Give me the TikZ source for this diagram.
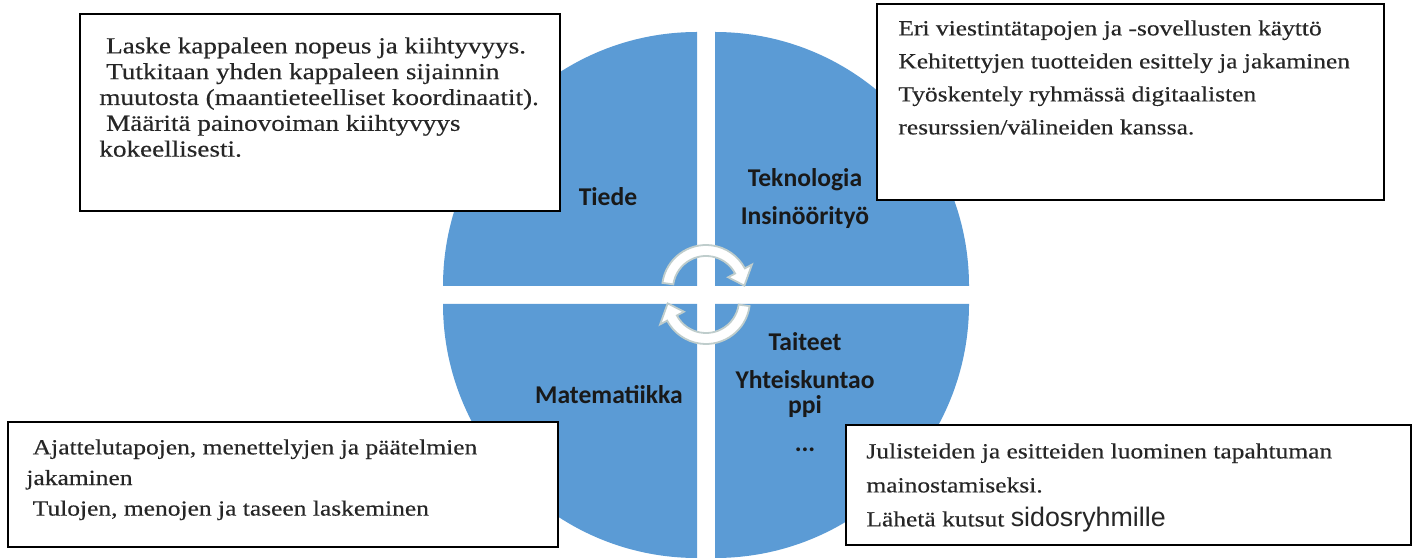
\documentclass[tikz,border=0pt]{standalone}
\usepackage{fontspec}
\setmainfont{Liberation Serif}
\newfontfamily\boxfont{Liberation Serif}[FakeStretch=1.18,FakeBold=0.35]
\newfontfamily\quadfont{Carlito}
\newfontfamily\arialfont{Liberation Sans}
\definecolor{quadblue}{HTML}{5B9BD5}
\definecolor{arrowedge}{HTML}{BFCDCC}
\definecolor{boxtext}{HTML}{262626}

\begin{document}
\begin{tikzpicture}[x=0.5pt,y=0.5pt,
  quad/.style={fill=quadblue},
  cyc/.style={fill=white,draw=arrowedge,line width=0.9pt},
  lbl/.style={font=\quadfont\bfseries\fontsize{12.8pt}{15pt}\selectfont,text=black!90,anchor=base,inner sep=0pt},
  box/.style={draw=black,fill=white,line width=1pt,inner sep=0pt},
  txt/.style={align=left,anchor=north west,inner sep=0pt,text=boxtext}]
\useasboundingbox (0,0) rectangle (1418,557);

% the four quarters
\fill[quad] (697,271) -- (443,271) arc[start angle=180,end angle=90,radius=254] -- cycle;
\fill[quad] (715,271) -- (715,525) arc[start angle=90,end angle=0,radius=254] -- cycle;
\fill[quad] (697,253) -- (697,-1) arc[start angle=270,end angle=180,radius=254] -- cycle;
\fill[quad] (715,253) -- (969,253) arc[start angle=0,end angle=-90,radius=254] -- cycle;

% cycle arrows
\filldraw[cyc,shift={(706,268)}] (172:44) arc[start angle=172,end angle=28,radius=44]
  -- (28:52) -- (5:38.5) -- (28:25) -- (28:33) arc[start angle=28,end angle=172,radius=33] -- cycle;
\filldraw[cyc,shift={(706,257)},rotate=180] (172:44) arc[start angle=172,end angle=28,radius=44]
  -- (28:52) -- (5:38.5) -- (28:25) -- (28:33) arc[start angle=28,end angle=172,radius=33] -- cycle;

\node[lbl] (tiede) at (608,351) {Tiede};
\node[lbl] (tekno) at (805,370) {Teknologia};
\node[lbl] (insi) at (805,332) {Insinöörityö};
\node[lbl] (taiteet) at (805,206) {Taiteet};
\node[lbl] (yhteis) at (805,168) {Yhteiskuntao};
\node[lbl] (ppi) at (805,143) {ppi};
\node[lbl] (dots) at (805,105) {...};
\node[lbl] (mate) at (609,154) {Matematiikka};

% text boxes
\node[box,minimum width=240pt,minimum height=98.5pt] (tiedebox) at (320,444.5) {};
\node[txt,font=\boxfont\fontsize{11.5pt}{12.9pt}\selectfont] (tiedetxt) at (99,524)
  {\rule{0pt}{10pt}\ Laske kappaleen nopeus ja kiihtyvyys.\\
   \ Tutkitaan yhden kappaleen sijainnin\\
   muutosta (maantieteelliset koordinaatit).\\
   \ Määritä painovoiman kiihtyvyys\\
   kokeellisesti.};

\node[box,minimum width=253.5pt,minimum height=98pt] (teknobox) at (1130.5,455) {};
\node[txt,font=\boxfont\fontsize{10.8pt}{16.5pt}\selectfont] (teknotxt) at (898,542)
  {\rule{0pt}{10pt}Eri viestintätapojen ja -sovellusten käyttö\\
   Kehitettyjen tuotteiden esittely ja jakaminen\\
   Työskentely ryhmässä digitaalisten\\
   resurssien/välineiden kanssa.};

\node[box,minimum width=275pt,minimum height=62.5pt] (matebox) at (283,72.5) {};
\node[txt,font=\boxfont\fontsize{10.8pt}{15.3pt}\selectfont] (matetxt) at (26,123)
  {\rule{0pt}{10pt}\ Ajattelutapojen, menettelyjen ja päätelmien\\
   jakaminen\\
   \ Tulojen, menojen ja taseen laskeminen};

\node[box,minimum width=282.5pt,minimum height=60pt] (taidebox) at (1128.5,72) {};
\node[txt,font=\boxfont\fontsize{10.8pt}{17pt}\selectfont] (taidetxt) at (866,119)
  {\rule{0pt}{10pt}Julisteiden ja esitteiden luominen tapahtuman\\
   mainostamiseksi.\\
   Lähetä kutsut {\arialfont\fontsize{13.4pt}{17pt}\selectfont sidosryhmille}};
\end{tikzpicture}
\end{document}
